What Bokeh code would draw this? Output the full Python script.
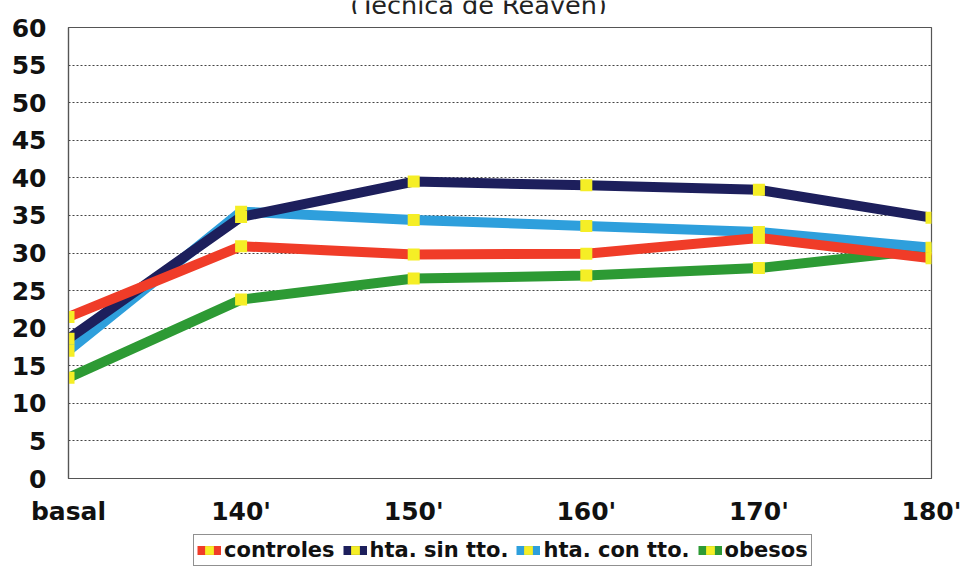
from bokeh.plotting import figure
from bokeh.layouts import column
from bokeh.models import (ColumnDataSource, FixedTicker, Label, Legend, LegendItem,
                          Range1d)
from bokeh.embed import file_html
from bokeh.resources import INLINE

# Sampling times and series values
times = ["basal", "140'", "150'", "160'", "170'", "180'"]
controles = [21.5, 30.9, 29.8, 29.9, 32.0, 29.3]
hta_sin_tto = [18.6, 34.8, 39.5, 39.0, 38.4, 34.7]
hta_con_tto = [17.0, 35.5, 34.4, 33.6, 32.8, 30.7]
obesos = [13.4, 23.8, 26.6, 27.0, 28.0, 30.5]

y_ticks = list(range(0, 61, 5))
subtitle_text = "(Técnica de Reaven)"

FONT = "DejaVu Sans"
YELLOW = "#f5ee26"
W = 965
LEFT, RIGHT = 68, 34   # chart borders; the column lines the strips up with them


def strip(height):
    """A bare figure whose data units are page pixels (y counted downward)."""
    f = figure(width=W, height=height, output_backend="svg", toolbar_location=None,
               x_range=Range1d(LEFT, W - RIGHT), y_range=Range1d(height, 0),
               x_axis_type=None, y_axis_type=None,
               min_border_left=LEFT, min_border_right=RIGHT, min_border_top=0,
               min_border_bottom=0)
    f.grid.visible = False
    f.outline_line_color = None
    f.background_fill_color = "white"
    f.border_fill_color = "white"
    return f


# subtitle strip: the text rises past the top of the page
top = strip(14)
top.add_layout(Label(x=478, y=4.5, text=subtitle_text, text_align="center",
                     text_baseline="alphabetic", text_font=FONT,
                     text_font_size="25.5px", text_color="#222222"))

# main chart
p = figure(width=W, height=518, output_backend="svg", toolbar_location=None,
           x_range=Range1d(0, len(times) - 1), y_range=Range1d(0, 60),
           min_border_left=LEFT, min_border_right=RIGHT, min_border_top=13,
           min_border_bottom=54)
p.background_fill_color = "white"
p.border_fill_color = "white"
p.outline_line_color = "#555555"
p.outline_line_width = 1.2

p.xaxis.ticker = FixedTicker(ticks=list(range(len(times))))
p.xaxis.major_label_overrides = {i: t for i, t in enumerate(times)}
p.yaxis.ticker = FixedTicker(ticks=y_ticks)
for ax in (p.xaxis[0], p.yaxis[0]):
    ax.major_label_text_font = FONT
    ax.major_label_text_font_style = "bold"
    ax.major_label_text_font_size = "25px"
    ax.major_label_text_color = "#111111"
    ax.major_tick_line_color = None
    ax.minor_tick_line_color = None
    ax.axis_line_color = "#555555"
    ax.axis_line_width = 1.2
p.yaxis.major_label_standoff = 16
p.xaxis.major_label_standoff = 12

p.xgrid.grid_line_color = None
p.ygrid.grid_line_color = "#444444"
p.ygrid.grid_line_dash = "2 2"
p.ygrid.grid_line_width = 1

x = list(range(len(times)))
series = [
    ("obesos", obesos, "#2d9a34"),
    ("hta. con tto.", hta_con_tto, "#2e9fdc"),
    ("hta. sin tto.", hta_sin_tto, "#1d1f5c"),
    ("controles", controles, "#f03c28"),
]
colors = {}
for name, vals, color in series:
    colors[name] = color
    src = ColumnDataSource(dict(x=x, y=vals))
    p.line("x", "y", source=src, line_color=color, line_width=10, line_join="round")
    p.scatter("x", "y", source=src, marker="square", size=12,
              fill_color=YELLOW, line_color=None)

# legend strip below the chart, with keys styled like the series
bottom = strip(34)
legend_order = ["controles", "hta. sin tto.", "hta. con tto.", "obesos"]
legend_items = []
for name in legend_order:
    key = ColumnDataSource(dict(x=[float("nan")], y=[float("nan")]))
    ln = bottom.line("x", "y", source=key, line_color=colors[name], line_width=9)
    mk = bottom.scatter("x", "y", source=key, marker="square", size=9,
                        fill_color=YELLOW, line_color=None)
    legend_items.append(LegendItem(label=name, renderers=[ln, mk]))

legend = Legend(
    items=legend_items, orientation="horizontal", location=(193 - LEFT, 0),
    label_text_font=FONT, label_text_font_style="bold",
    label_text_font_size="21px", label_text_color="#111111",
    glyph_width=24, glyph_height=22, label_height=22, label_standoff=3, spacing=8,
    padding=3, margin=0, border_line_color="#222222", border_line_width=1.5,
    background_fill_color="white", background_fill_alpha=1.0,
)
bottom.add_layout(legend, "center")

layout = column(top, p, bottom, spacing=0)
open("out.html", "w").write(file_html(layout, INLINE))
